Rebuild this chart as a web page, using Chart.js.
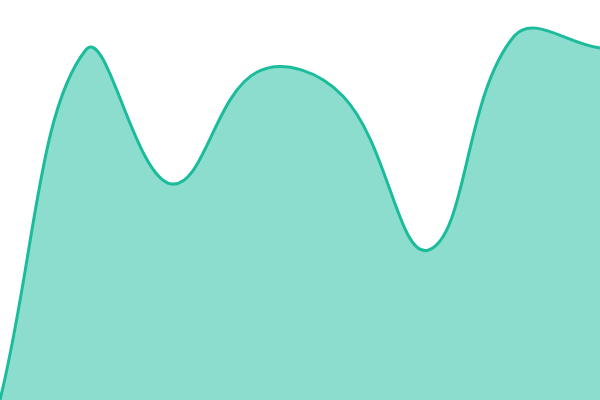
<!DOCTYPE html>
<html>
<head>
<meta charset="utf-8">
<script src="https://cdn.jsdelivr.net/npm/chart.js@4"></script>
<style>
html,body{margin:0;padding:0;background:#fff;}
#wrap{width:600px;height:400px;}
</style>
</head>
<body>
<div id="wrap"><canvas id="c"></canvas></div>
<script>
const labels = ["1","2","3","4","5","6","7","8"];
const values = [0, 87.5, 54, 82, 76, 37.5, 91, 88];
const yMin = 0;
const yMax = 100;

new Chart(document.getElementById('c'), {
  type: 'line',
  data: {
    labels: labels,
    datasets: [{
      data: values,
      borderColor: '#1abc9c',
      backgroundColor: 'rgba(26,188,156,0.5)',
      borderWidth: 3,
      fill: 'origin',
      tension: 0.4,
      pointRadius: 0
    }]
  },
  options: {
    responsive: true,
    maintainAspectRatio: false,
    animation: false,
    layout: { padding: 0 },
    plugins: { legend: { display: false }, tooltip: { enabled: false } },
    scales: {
      x: { display: false },
      y: { display: false, min: yMin, max: yMax }
    }
  }
});
</script>
</body>
</html>
